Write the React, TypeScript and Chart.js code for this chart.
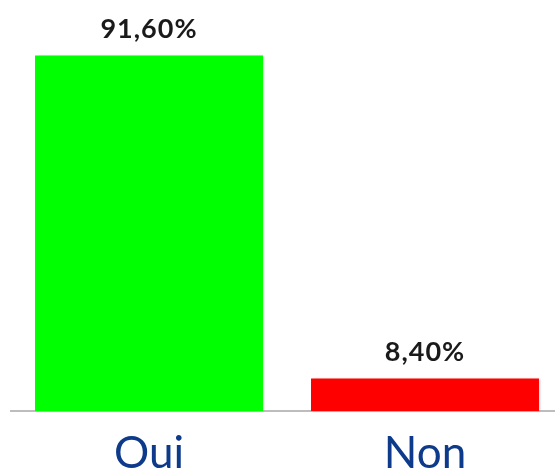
import React, { useEffect, useRef } from "react";
import { Chart, registerables } from "chart.js";

Chart.register(...registerables);

const categories = ["Oui", "Non"];
const values = [91.6, 8.4];
const valueLabels = ["91,60%", "8,40%"];
const barColors = ["#00FF00", "#FF0000"];

const valueLabelPlugin = {
  id: "valueLabels",
  beforeDatasetsDraw(chart: any) {
    const ctx = chart.ctx;
    ctx.save();
    ctx.shadowColor = "rgba(0,0,0,0.22)";
    ctx.shadowBlur = 3;
    ctx.shadowOffsetX = 1.5;
    ctx.shadowOffsetY = 0;
  },
  afterDatasetsDraw(chart: any) {
    const ctx = chart.ctx;
    ctx.restore();
    const meta = chart.getDatasetMeta(0);
    ctx.save();
    ctx.font = "bold 27px Lato";
    try {
      (ctx as any).letterSpacing = "1px";
    } catch (e) {}
    ctx.fillStyle = "#1a1a1a";
    ctx.textAlign = "center";
    ctx.textBaseline = "middle";
    meta.data.forEach((bar: any, i: number) => {
      ctx.fillText(valueLabels[i], bar.x, bar.y - 26);
    });
    ctx.restore();
  },
};

export default function App() {
  const ref = useRef<HTMLCanvasElement>(null);
  useEffect(() => {
    if (!ref.current) return;
    const chart = new Chart(ref.current, {
      type: "bar",
      data: {
        labels: categories,
        datasets: [
          {
            data: values,
            backgroundColor: barColors,
            borderWidth: 0,
            categoryPercentage: 1,
            barPercentage: 0.826,
          },
        ],
      },
      options: {
        responsive: false,
        animation: false,
        layout: { padding: { top: 23, left: 11, right: 17, bottom: 24 } },
        plugins: { legend: { display: false }, tooltip: { enabled: false } },
        scales: {
          x: {
            grid: { display: false, drawTicks: false },
            border: { display: true, color: "#bdbdbd", width: 2 },
            ticks: {
              padding: 16,
              color: "#0D3A8A",
              font: { family: "Lato", size: 44 },
            },
          },
          y: {
            display: false,
            min: 0,
            max: 100,
          },
        },
      },
      plugins: [valueLabelPlugin],
    });
    return () => chart.destroy();
  }, []);
  return (
    <div
      style={{
        position: "fixed",
        left: 0,
        top: 0,
        width: 555,
        height: 471,
        overflow: "hidden",
        background: "#fff",
      }}
    >
      <canvas
        ref={ref}
        width={580}
        height={520}
        style={{ position: "absolute", left: 0, top: 0, width: 580, height: 520 }}
      />
    </div>
  );
}
